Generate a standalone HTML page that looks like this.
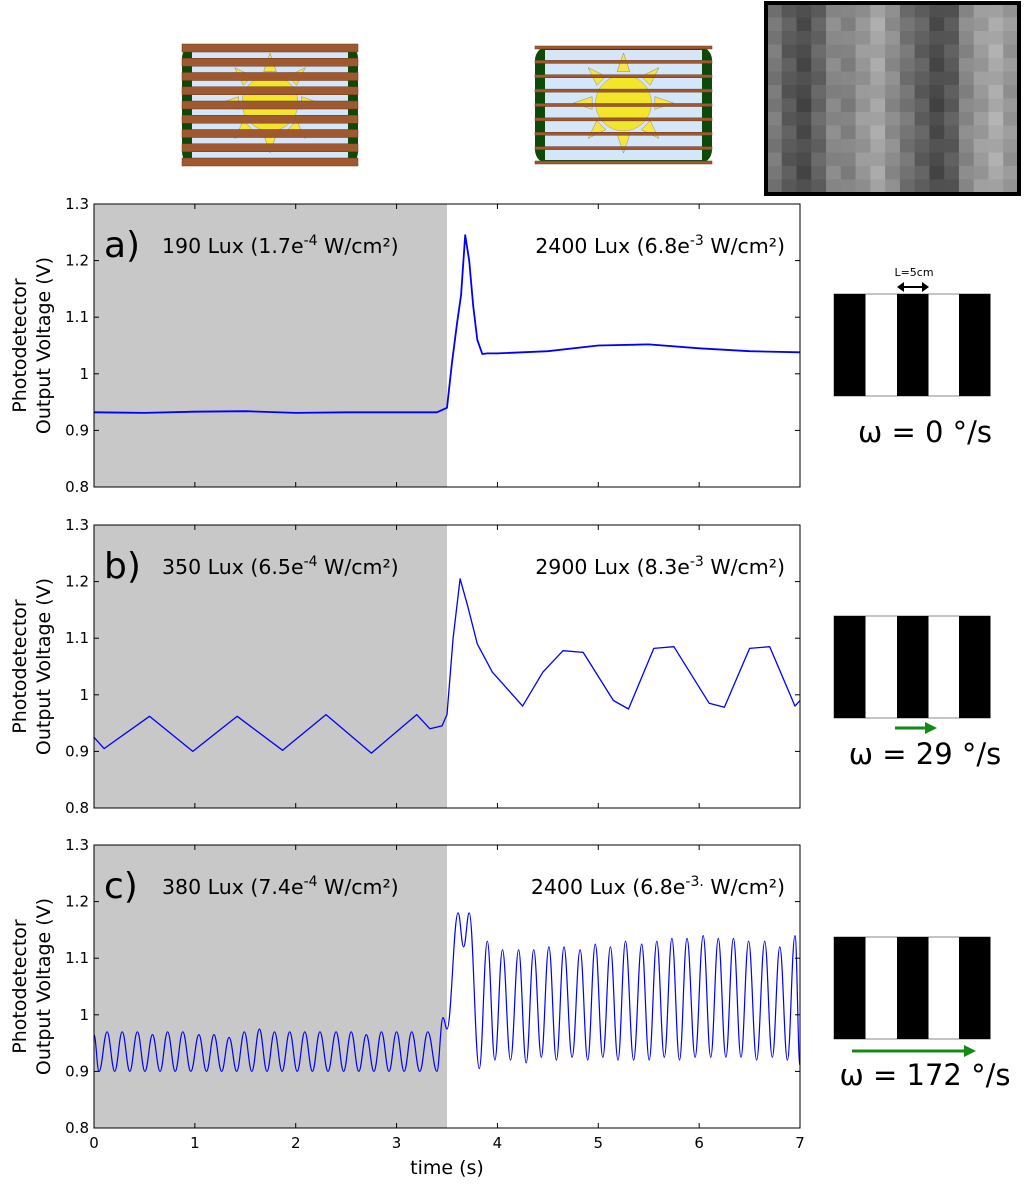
<!DOCTYPE html>
<html><head><meta charset="utf-8"><style>
html,body{margin:0;padding:0;background:#fff;}
svg{display:block;font-family:"DejaVu Sans","Liberation Sans",sans-serif;}
</style></head><body>
<svg id="fig" width="1024" height="1188" viewBox="0 0 1024 1188" xmlns="http://www.w3.org/2000/svg">
<g id="top-art"></g>
<g id="panels"></g>
<g id="side"></g>
</svg>
<script>
// ---------- data ----------
const yTicks = [0.8, 0.9, 1, 1.1, 1.2, 1.3];
const yTickLabels = ["0.8", "0.9", "1", "1.1", "1.2", "1.3"];
const xTicks = [0, 1, 2, 3, 4, 5, 6, 7];
const xTickLabels = ["0", "1", "2", "3", "4", "5", "6", "7"];
const darkEnd = 3.5;

const aT = [0, 0.5, 1, 1.5, 2, 2.5, 3, 3.4, 3.5, 3.55, 3.6, 3.64, 3.68, 3.72, 3.76, 3.8, 3.85, 3.9, 4.0, 4.5, 5.0, 5.5, 6.0, 6.5, 7.0];
const aV = [0.932, 0.931, 0.933, 0.934, 0.931, 0.932, 0.932, 0.932, 0.94, 1.02, 1.09, 1.14, 1.245, 1.2, 1.12, 1.06, 1.035, 1.036, 1.036, 1.04, 1.05, 1.052, 1.045, 1.04, 1.038];

const bT = [0, 0.1, 0.55, 0.98, 1.42, 1.87, 2.3, 2.75, 3.2, 3.33, 3.45, 3.5, 3.56, 3.63, 3.7, 3.8, 3.95, 4.1, 4.25, 4.45, 4.65, 4.85, 5.15, 5.3, 5.55, 5.75, 6.1, 6.25, 6.5, 6.7, 6.95, 7.0];
const bV = [0.925, 0.905, 0.962, 0.9, 0.962, 0.902, 0.965, 0.897, 0.965, 0.94, 0.945, 0.965, 1.1, 1.205, 1.16, 1.09, 1.04, 1.01, 0.98, 1.04, 1.078, 1.075, 0.99, 0.975, 1.082, 1.085, 0.985, 0.978, 1.082, 1.085, 0.98, 0.99];

const cIntroT = [0, 0.05];
const cIntroV = [0.965, 0.9];
const cPrePeakT = [0.13,0.28,0.43,0.58,0.73,0.88,1.04,1.19,1.34,1.49,1.64,1.79,1.94,2.09,2.24,2.40,2.55,2.70,2.85,3.00,3.15,3.31];
const cPrePeakV = [0.97,0.97,0.97,0.965,0.97,0.97,0.965,0.965,0.96,0.97,0.975,0.97,0.97,0.97,0.97,0.97,0.97,0.965,0.97,0.97,0.97,0.97];
const cPreTroughV = [0.9,0.9,0.9,0.9,0.9,0.9,0.9,0.9,0.9,0.9,0.9,0.9,0.9,0.9,0.9,0.9,0.9,0.9,0.9,0.9,0.9,0.9];
const cMidT = [3.4, 3.46, 3.5, 3.61, 3.665, 3.72, 3.82];
const cMidV = [0.9, 0.995, 0.975, 1.18, 1.12, 1.18, 0.905];
const cPostPeakT = [3.90,4.05,4.21,4.36,4.51,4.66,4.82,4.97,5.12,5.27,5.43,5.58,5.73,5.88,6.04,6.19,6.34,6.49,6.65,6.80,6.95];
const cPostPeakV = [1.13,1.115,1.115,1.115,1.12,1.12,1.115,1.125,1.12,1.13,1.125,1.13,1.135,1.135,1.14,1.135,1.135,1.13,1.13,1.12,1.14];
const cPostTroughV = [0.92,0.92,0.915,0.925,0.92,0.925,0.92,0.925,0.92,0.92,0.92,0.925,0.92,0.925,0.925,0.925,0.925,0.92,0.925,0.92,0.91];

const panelLetters = ["a)", "b)", "c)"];
const leftLux = ["190 Lux (1.7e", "350 Lux (6.5e", "380 Lux (7.4e"];
const leftExp = ["-4", "-4", "-4"];
const rightLux = ["2400 Lux (6.8e", "2900 Lux (8.3e", "2400 Lux (6.8e"];
const rightExp = ["-3", "-3", "-3."];
const omegas = ["ω = 0 °/s", "ω = 29 °/s", "ω = 172 °/s"];

// ---------- helpers ----------
const NS = "http://www.w3.org/2000/svg";
function mk(tag, attrs, parent) {
  const e = document.createElementNS(NS, tag);
  for (const k in attrs) e.setAttribute(k, attrs[k]);
  parent.appendChild(e);
  return e;
}
const X0 = 94, X1 = 800;
const tops = [204, 525, 845];
const PH = 283;
function xS(t) { return X0 + (t - 0) / 7 * (X1 - X0); }
function yS(v, top) { return top + (1.3 - v) / 0.5 * PH; }

// build c series
const cT = [], cV = [];
cIntroT.forEach((t, i) => { cT.push(t); cV.push(cIntroV[i]); });
cPrePeakT.forEach((t, i) => {
  cT.push(t); cV.push(cPrePeakV[i]);
  if (i + 1 < cPrePeakT.length) { cT.push((t + cPrePeakT[i + 1]) / 2); cV.push(cPreTroughV[i]); }
});
cMidT.forEach((t, i) => { cT.push(t); cV.push(cMidV[i]); });
cPostPeakT.forEach((t, i) => {
  cT.push(t); cV.push(cPostPeakV[i]);
  const next = i + 1 < cPostPeakT.length ? (t + cPostPeakT[i + 1]) / 2 : 7.0;
  cT.push(next); cV.push(cPostTroughV[i]);
});
const seriesT = [aT, bT, cT];
const seriesV = [aV, bV, cV];

function smoothPath(ts, vs, top) {
  let d = "M" + xS(ts[0]).toFixed(1) + "," + yS(vs[0], top).toFixed(1);
  for (let i = 1; i < ts.length; i++) {
    const x0 = xS(ts[i - 1]), y0 = yS(vs[i - 1], top), x1 = xS(ts[i]), y1 = yS(vs[i], top);
    const dx = (x1 - x0) * 0.4;
    d += " C" + (x0 + dx).toFixed(1) + "," + y0.toFixed(1) + " " + (x1 - dx).toFixed(1) + "," + y1.toFixed(1) + " " + x1.toFixed(1) + "," + y1.toFixed(1);
  }
  return d;
}

// ---------- panels ----------
const panels = document.getElementById("panels");
for (let p = 0; p < 3; p++) {
  const top = tops[p];
  const g = mk("g", {}, panels);
  
  
  const shade = mk("rect", {x: xS(0), y: top, width: xS(darkEnd) - xS(0), height: PH, fill: "#c8c8c8"}, g);
  
  
  let line;
  if (p === 2) {
    line = mk("path", {d: smoothPath(seriesT[p], seriesV[p], top), fill: "none", stroke: "#0000ff", "stroke-width": 1.2}, g);
  } else {
    const pts = seriesT[p].map((t, i) => xS(t).toFixed(1) + "," + yS(seriesV[p][i], top).toFixed(1)).join(" ");
    line = mk("polyline", {points: pts, fill: "none", stroke: "#0000ff", "stroke-width": p === 0 ? 1.8 : 1.3, "stroke-linejoin": "round"}, g);
  }
  
  
  const fr = mk("rect", {x: X0, y: top, width: X1 - X0, height: PH, fill: "none", stroke: "#000", "stroke-width": 1}, g);
  
  
  yTicks.forEach((v, i) => {
    const y = yS(v, top);
    mk("line", {x1: X0, x2: X0 + 5, y1: y, y2: y, stroke: "#000"}, g);
    mk("line", {x1: X1, x2: X1 - 5, y1: y, y2: y, stroke: "#000"}, g);
    const tl = mk("text", {x: X0 - 5, y: y + 5, "text-anchor": "end", "font-size": 15, fill: "#000"}, g);
    tl.textContent = yTickLabels[i];
    
    
  });
  xTicks.forEach((t, i) => {
    const x = xS(t);
    mk("line", {x1: x, x2: x, y1: top, y2: top + 5, stroke: "#000"}, g);
    mk("line", {x1: x, x2: x, y1: top + PH, y2: top + PH - 5, stroke: "#000"}, g);
    if (p === 2) {
      const tl = mk("text", {x: x, y: top + PH + 20, "text-anchor": "middle", "font-size": 15, fill: "#000"}, g);
      tl.textContent = xTickLabels[i];
      
      
    }
  });
  const lt = mk("text", {x: 104, y: top + 53, "font-size": 36, fill: "#000"}, g);
  lt.textContent = panelLetters[p];
  
  
  const l1 = mk("text", {x: 162, y: top + 49, "font-size": 20.5, fill: "#000"}, g);
  
  
  l1.innerHTML = leftLux[p] + '<tspan dy="-8" font-size="14">' + leftExp[p] + '</tspan><tspan dy="8"> W/cm²)</tspan>';
  const l2 = mk("text", {x: 785, y: top + 49, "text-anchor": "end", "font-size": 20.5, fill: "#000"}, g);
  
  
  l2.innerHTML = rightLux[p] + '<tspan dy="-8" font-size="14">' + rightExp[p] + '</tspan><tspan dy="8"> W/cm²)</tspan>';
  const cy = top + PH / 2;
  const yt = mk("text", {transform: "translate(26," + cy + ") rotate(-90)", "text-anchor": "middle", "font-size": 19, fill: "#000"}, g);
  
  
  yt.innerHTML = '<tspan x="0" dy="0">Photodetector</tspan><tspan x="0" dy="24">Output Voltage (V)</tspan>';
}
const xt = mk("text", {x: 447, y: 1174, "text-anchor": "middle", "font-size": 19, fill: "#000"}, panels);
xt.textContent = "time (s)";



// ---------- stripe diagrams ----------
const side = document.getElementById("side");
const sTops = [294, 616, 937];
for (let p = 0; p < 3; p++) {
  const g = mk("g", {}, side);
  
  
  const y = sTops[p];
  mk("rect", {x: 834, y: y, width: 156, height: 102, fill: "#fff", stroke: "#888", "stroke-width": 1}, g);
  [834, 897, 959].forEach(x => mk("rect", {x: x, y: y, width: 31.5, height: 102, fill: "#000"}, g));
  const om = mk("text", {x: 925, y: y + 148, "text-anchor": "middle", "font-size": 29, fill: "#000"}, g);
  om.textContent = omegas[p];
  
  
}
const ll = mk("text", {x: 914, y: 276, "text-anchor": "middle", "font-size": 11, fill: "#000"}, side);
ll.textContent = "L=5cm";


mk("line", {x1: 900, x2: 926, y1: 287, y2: 287, stroke: "#000", "stroke-width": 2}, side);
mk("polygon", {points: "897,287 904,282 904,292", fill: "#000"}, side);
mk("polygon", {points: "929,287 922,282 922,292", fill: "#000"}, side);
function garrow(x1, x2, y, name) {
  const a = mk("g", {}, side);
  
  
  mk("line", {x1: x1, x2: x2 - 8, y1: y, y2: y, stroke: "#138a13", "stroke-width": 3}, a);
  mk("polygon", {points: x2 + "," + y + " " + (x2 - 12) + "," + (y - 6) + " " + (x2 - 12) + "," + (y + 6), fill: "#138a13"}, a);
}
garrow(895, 937, 728, 'rotation-arrow-b');
garrow(852, 976, 1051, 'rotation-arrow-c');

// ---------- top illustrations ----------
const art = document.getElementById("top-art");
function blinds(x, y, w, h, slatCount, slatH, name) {
  const g = mk("g", {}, art);
  
  
  mk("rect", {x: x, y: y, width: w, height: h, rx: 14, fill: "#0b4a0b"}, g);
  mk("rect", {x: x + 10, y: y + 4, width: w - 20, height: h - 8, fill: "#d4e6fa"}, g);
  const cx = x + w / 2, cy = y + h / 2 - 2;
  for (let k = 0; k < 8; k++) {
    const a = k * Math.PI / 4;
    const p1 = [cx + Math.cos(a) * 50, cy + Math.sin(a) * 50];
    const b1 = [cx + Math.cos(a + 0.2) * 32, cy + Math.sin(a + 0.2) * 32];
    const b2 = [cx + Math.cos(a - 0.2) * 32, cy + Math.sin(a - 0.2) * 32];
    mk("polygon", {points: p1.join(",") + " " + b1.join(",") + " " + b2.join(","), fill: "#f5e642", stroke: "#888", "stroke-width": 0.5}, g);
  }
  mk("circle", {cx: cx, cy: cy, r: 28, fill: "#f2e52a", stroke: "#999", "stroke-width": 0.5}, g);
  for (let i = 0; i < slatCount; i++) {
    const sy = y + i * (h - slatH) / (slatCount - 1);
    mk("rect", {x: x, y: sy, width: w, height: slatH, fill: "#a0582e", stroke: "#6a3a1c", "stroke-width": 0.5}, g);
  }
}
blinds(182, 44, 176, 122, 9, 8, 'closed-blinds-icon');
blinds(535, 46, 177, 118, 9, 3, 'open-blinds-icon');

const ph = mk("g", {}, art);


const colShades = [120,90,75,100,135,130,150,165,140,115,95,75,90,135,155,170,150];
const bx = 767, by = 4, bw = 251, bh = 189, cw = bw / colShades.length;
colShades.forEach((s, i) => {
  for (let r = 0; r < 14; r++) {
    const v = Math.max(50, Math.min(200, s + ((i * 7 + r * 13) % 21) - 10));
    mk("rect", {x: bx + i * cw, y: by + r * (bh / 14), width: cw + 0.5, height: bh / 14 + 0.5, fill: "rgb(" + v + "," + v + "," + v + ")"}, ph);
  }
});
mk("rect", {x: 766, y: 3, width: 253, height: 191, fill: "none", stroke: "#000", "stroke-width": 4}, ph);
</script>
</body></html>
